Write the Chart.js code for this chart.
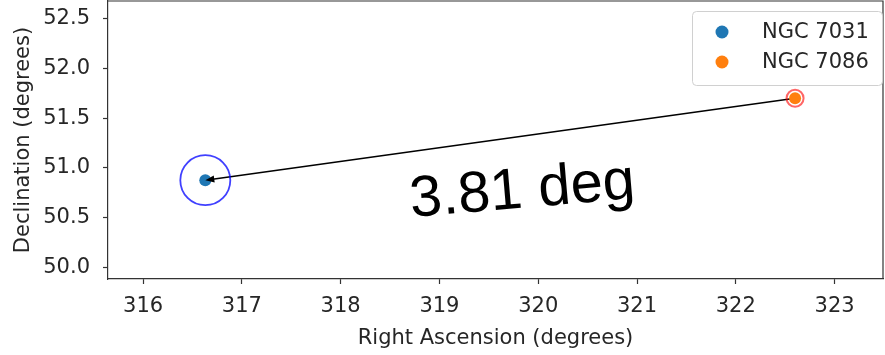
<!DOCTYPE html>
<html>
<head>
<meta charset="utf-8">
<script src="https://cdn.jsdelivr.net/npm/chart.js@4"></script>
<style>
  html, body { margin: 0; padding: 0; background: #fff; }
  #wrap { width: 885px; height: 355px; }
</style>
</head>
<body>
<div id="wrap"><canvas id="chartjs" width="885" height="355"></canvas></div>
<script>
// data
const names = ['NGC 7031', 'NGC 7086'];
const raValues = [316.63, 322.60];
const decValues = [50.875, 51.70];
const separationLabel = '3.81 deg';
const labelPos = { x: 319.84, y: 50.76 };
const xTicks = [316, 317, 318, 319, 320, 321, 322, 323];
const yTicks = [50.0, 50.5, 51.0, 51.5, 52.0, 52.5];
const xRange = [315.645, 323.49];
const yRange = [49.88, 52.68];

const blue = '#1f77b4';
const orange = '#ff7f0e';
const textColor = '#262626';
const font = 'DejaVu Sans';
const fs = 21;

// arrow head, legend, text label, top/right frame
const extras = {
    id: 'extras',
    afterDatasetsDraw(chart) {
        const c = chart.ctx, xs = chart.scales.x, ys = chart.scales.y, a = chart.chartArea;
        // arrow head at NGC 7031
        const x0 = xs.getPixelForValue(raValues[1]), y0 = ys.getPixelForValue(decValues[1]);
        const x1 = xs.getPixelForValue(raValues[0]), y1 = ys.getPixelForValue(decValues[0]);
        const ang = Math.atan2(y1 - y0, x1 - x0);
        c.save();
        c.fillStyle = '#000';
        c.beginPath();
        c.moveTo(x1, y1);
        c.lineTo(x1 - 9 * Math.cos(ang) + 3.5 * Math.sin(ang), y1 - 9 * Math.sin(ang) - 3.5 * Math.cos(ang));
        c.lineTo(x1 - 9 * Math.cos(ang) - 3.5 * Math.sin(ang), y1 - 9 * Math.sin(ang) + 3.5 * Math.cos(ang));
        c.closePath();
        c.fill();

        // separation text
        c.translate(xs.getPixelForValue(labelPos.x), ys.getPixelForValue(labelPos.y));
        c.rotate(-4.8 * Math.PI / 180);
        c.font = '58px "Liberation Sans", Arial, sans-serif';
        c.textAlign = 'center';
        c.textBaseline = 'middle';
        c.fillStyle = '#000';
        c.fillText(separationLabel, 0, 0);
        c.restore();

        // top and right spines
        c.save();
        c.strokeStyle = '#333';
        c.lineWidth = 1.2;
        c.beginPath();
        c.moveTo(a.left, a.top);
        c.lineTo(a.right, a.top);
        c.lineTo(a.right, a.bottom);
        c.stroke();

        // legend
        const lx = 692, ly = 11, lw = 190, lh = 74;
        c.fillStyle = 'rgba(255,255,255,0.8)';
        c.strokeStyle = '#d0d0d0';
        c.lineWidth = 1;
        c.beginPath();
        c.roundRect(lx + 0.5, ly + 0.5, lw, lh, 4);
        c.fill();
        c.stroke();
        c.font = fs + 'px "' + font + '"';
        c.textBaseline = 'middle';
        c.textAlign = 'left';
        [blue, orange].forEach((col, i) => {
            const yy = ly + 21 + i * 30;
            c.fillStyle = col;
            c.beginPath();
            c.arc(lx + 30, yy, 6.5, 0, Math.PI * 2);
            c.fill();
            c.fillStyle = textColor;
            c.fillText(names[i], lx + 70, yy + 1);
        });
        c.restore();
    }
};

const ctx = document.getElementById('chartjs').getContext('2d');
const myChart = new Chart(ctx, {
    type: 'scatter',
    data: {
        datasets: [
            {   // blue highlight ring
                data: [{ x: raValues[0], y: decValues[0] }],
                pointRadius: 25, pointBackgroundColor: 'rgba(0,0,0,0)',
                pointBorderColor: 'rgba(0,0,255,0.75)', pointBorderWidth: 1.8
            },
            {
                label: names[0],
                data: [{ x: raValues[0], y: decValues[0] }],
                pointRadius: 6, pointBackgroundColor: blue, pointBorderWidth: 0
            },
            {
                label: names[1],
                data: [{ x: raValues[1], y: decValues[1] }],
                pointRadius: 6, pointBackgroundColor: orange, pointBorderWidth: 0
            },
            {   // red highlight ring
                data: [{ x: raValues[1], y: decValues[1] }],
                pointRadius: 8.5, pointBackgroundColor: 'rgba(0,0,0,0)',
                pointBorderColor: 'rgba(255,0,0,0.6)', pointBorderWidth: 2
            },
            {   // arrow shaft
                type: 'line',
                data: [{ x: raValues[1], y: decValues[1] }, { x: raValues[0], y: decValues[0] }],
                borderColor: '#000', borderWidth: 1.6, pointRadius: 0, fill: false
            }
        ]
    },
    options: {
        responsive: false,
        animation: false,
        layout: { autoPadding: false, padding: { top: 1, right: 2, left: 0, bottom: 0 } },
        plugins: { legend: { display: false }, tooltip: { enabled: false } },
        scales: {
            x: {
                type: 'linear', min: xRange[0], max: xRange[1],
                afterBuildTicks: s => { s.ticks = xTicks.map(v => ({ value: v })); },
                afterFit: s => { s.height = 76; s.paddingLeft = 0; s.paddingRight = 0; },
                ticks: { color: textColor, font: { family: font, size: fs }, padding: 10, maxRotation: 0 },
                grid: { drawOnChartArea: false, color: '#333', tickLength: 5, tickWidth: 1.2 },
                border: { color: '#333', width: 1.2 },
                title: { display: true, text: 'Right Ascension (degrees)', color: textColor,
                         font: { family: font, size: fs }, padding: { top: 0, bottom: 4 } }
            },
            y: {
                type: 'linear', min: yRange[0], max: yRange[1],
                afterBuildTicks: s => { s.ticks = yTicks.map(v => ({ value: v })); },
                afterFit: s => { s.width = 108; s.paddingTop = 0; s.paddingBottom = 0; },
                ticks: { color: textColor, font: { family: font, size: fs }, padding: 13,
                         callback: v => v.toFixed(1) },
                grid: { drawOnChartArea: false, color: '#333', tickLength: 5, tickWidth: 1.2 },
                border: { color: '#333', width: 1.2 },
                title: { display: true, text: 'Declination (degrees)', color: textColor,
                         font: { family: font, size: fs }, padding: { top: 11, bottom: 0 } }
            }
        }
    },
    plugins: [extras]
});
</script>
</body>
</html>
